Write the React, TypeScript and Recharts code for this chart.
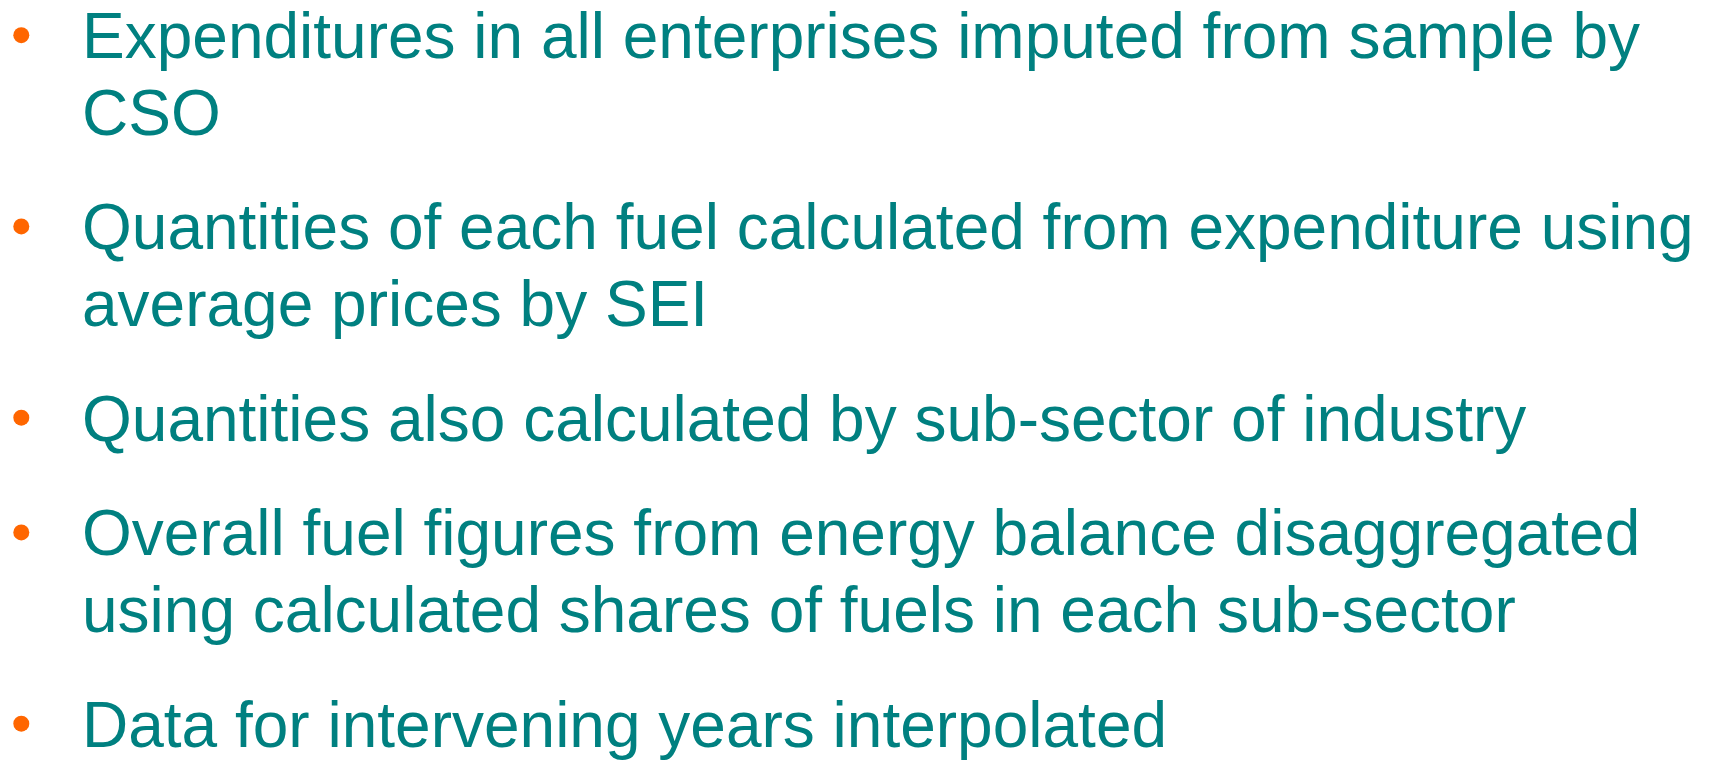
import { Scatter, ScatterChart, XAxis, YAxis } from "recharts";

// each bullet point, split into the lines as they wrap on the slide
const BULLETS: string[][] = [
  ["Expenditures in all enterprises imputed from sample by", "CSO"],
  ["Quantities of each fuel calculated from expenditure using", "average prices by SEI"],
  ["Quantities also calculated by sub-sector of industry"],
  ["Overall fuel figures from energy balance disaggregated", "using calculated shares of fuels in each sub-sector"],
  ["Data for intervening years interpolated"],
];

// extra space between bullet points, in line heights
const PARAGRAPH_GAP = 0.5;

const TEXT_COLOR = "#008080";
const BULLET_COLOR = "#FF6600";
const FONT = "'Liberation Sans', Arial, Helvetica, sans-serif";

type Row = { x: number; line: number; text: string; bullet: boolean };

const rows: Row[] = [];
let line = 0;
BULLETS.forEach((item) => {
  item.forEach((text, j) => {
    rows.push({ x: 0, line, text, bullet: j === 0 });
    line += 1;
  });
  line += PARAGRAPH_GAP;
});
const lastLine = rows[rows.length - 1].line;

function BulletLine(props: any) {
  const { cx, cy, payload } = props;
  return (
    <g>
      {payload.bullet && <circle cx={cx - 60.7} cy={cy - 22.8} r={8} fill={BULLET_COLOR} />}
      <text x={cx} y={cy} fill={TEXT_COLOR} fontSize={64} fontFamily={FONT}>
        {payload.text}
      </text>
    </g>
  );
}

export default function App() {
  return (
    <div style={{ width: 1711, height: 760, background: "#fff" }}>
      <style>{"body{margin:0}"}</style>
      <ScatterChart width={1711} height={760} margin={{ top: 58, right: 20, bottom: 13.5, left: 82 }}>
        <XAxis type="number" dataKey="x" domain={[0, 1]} hide />
        <YAxis type="number" dataKey="line" domain={[0, lastLine]} reversed hide />
        <Scatter data={rows} shape={<BulletLine />} isAnimationActive={false} />
      </ScatterChart>
    </div>
  );
}
